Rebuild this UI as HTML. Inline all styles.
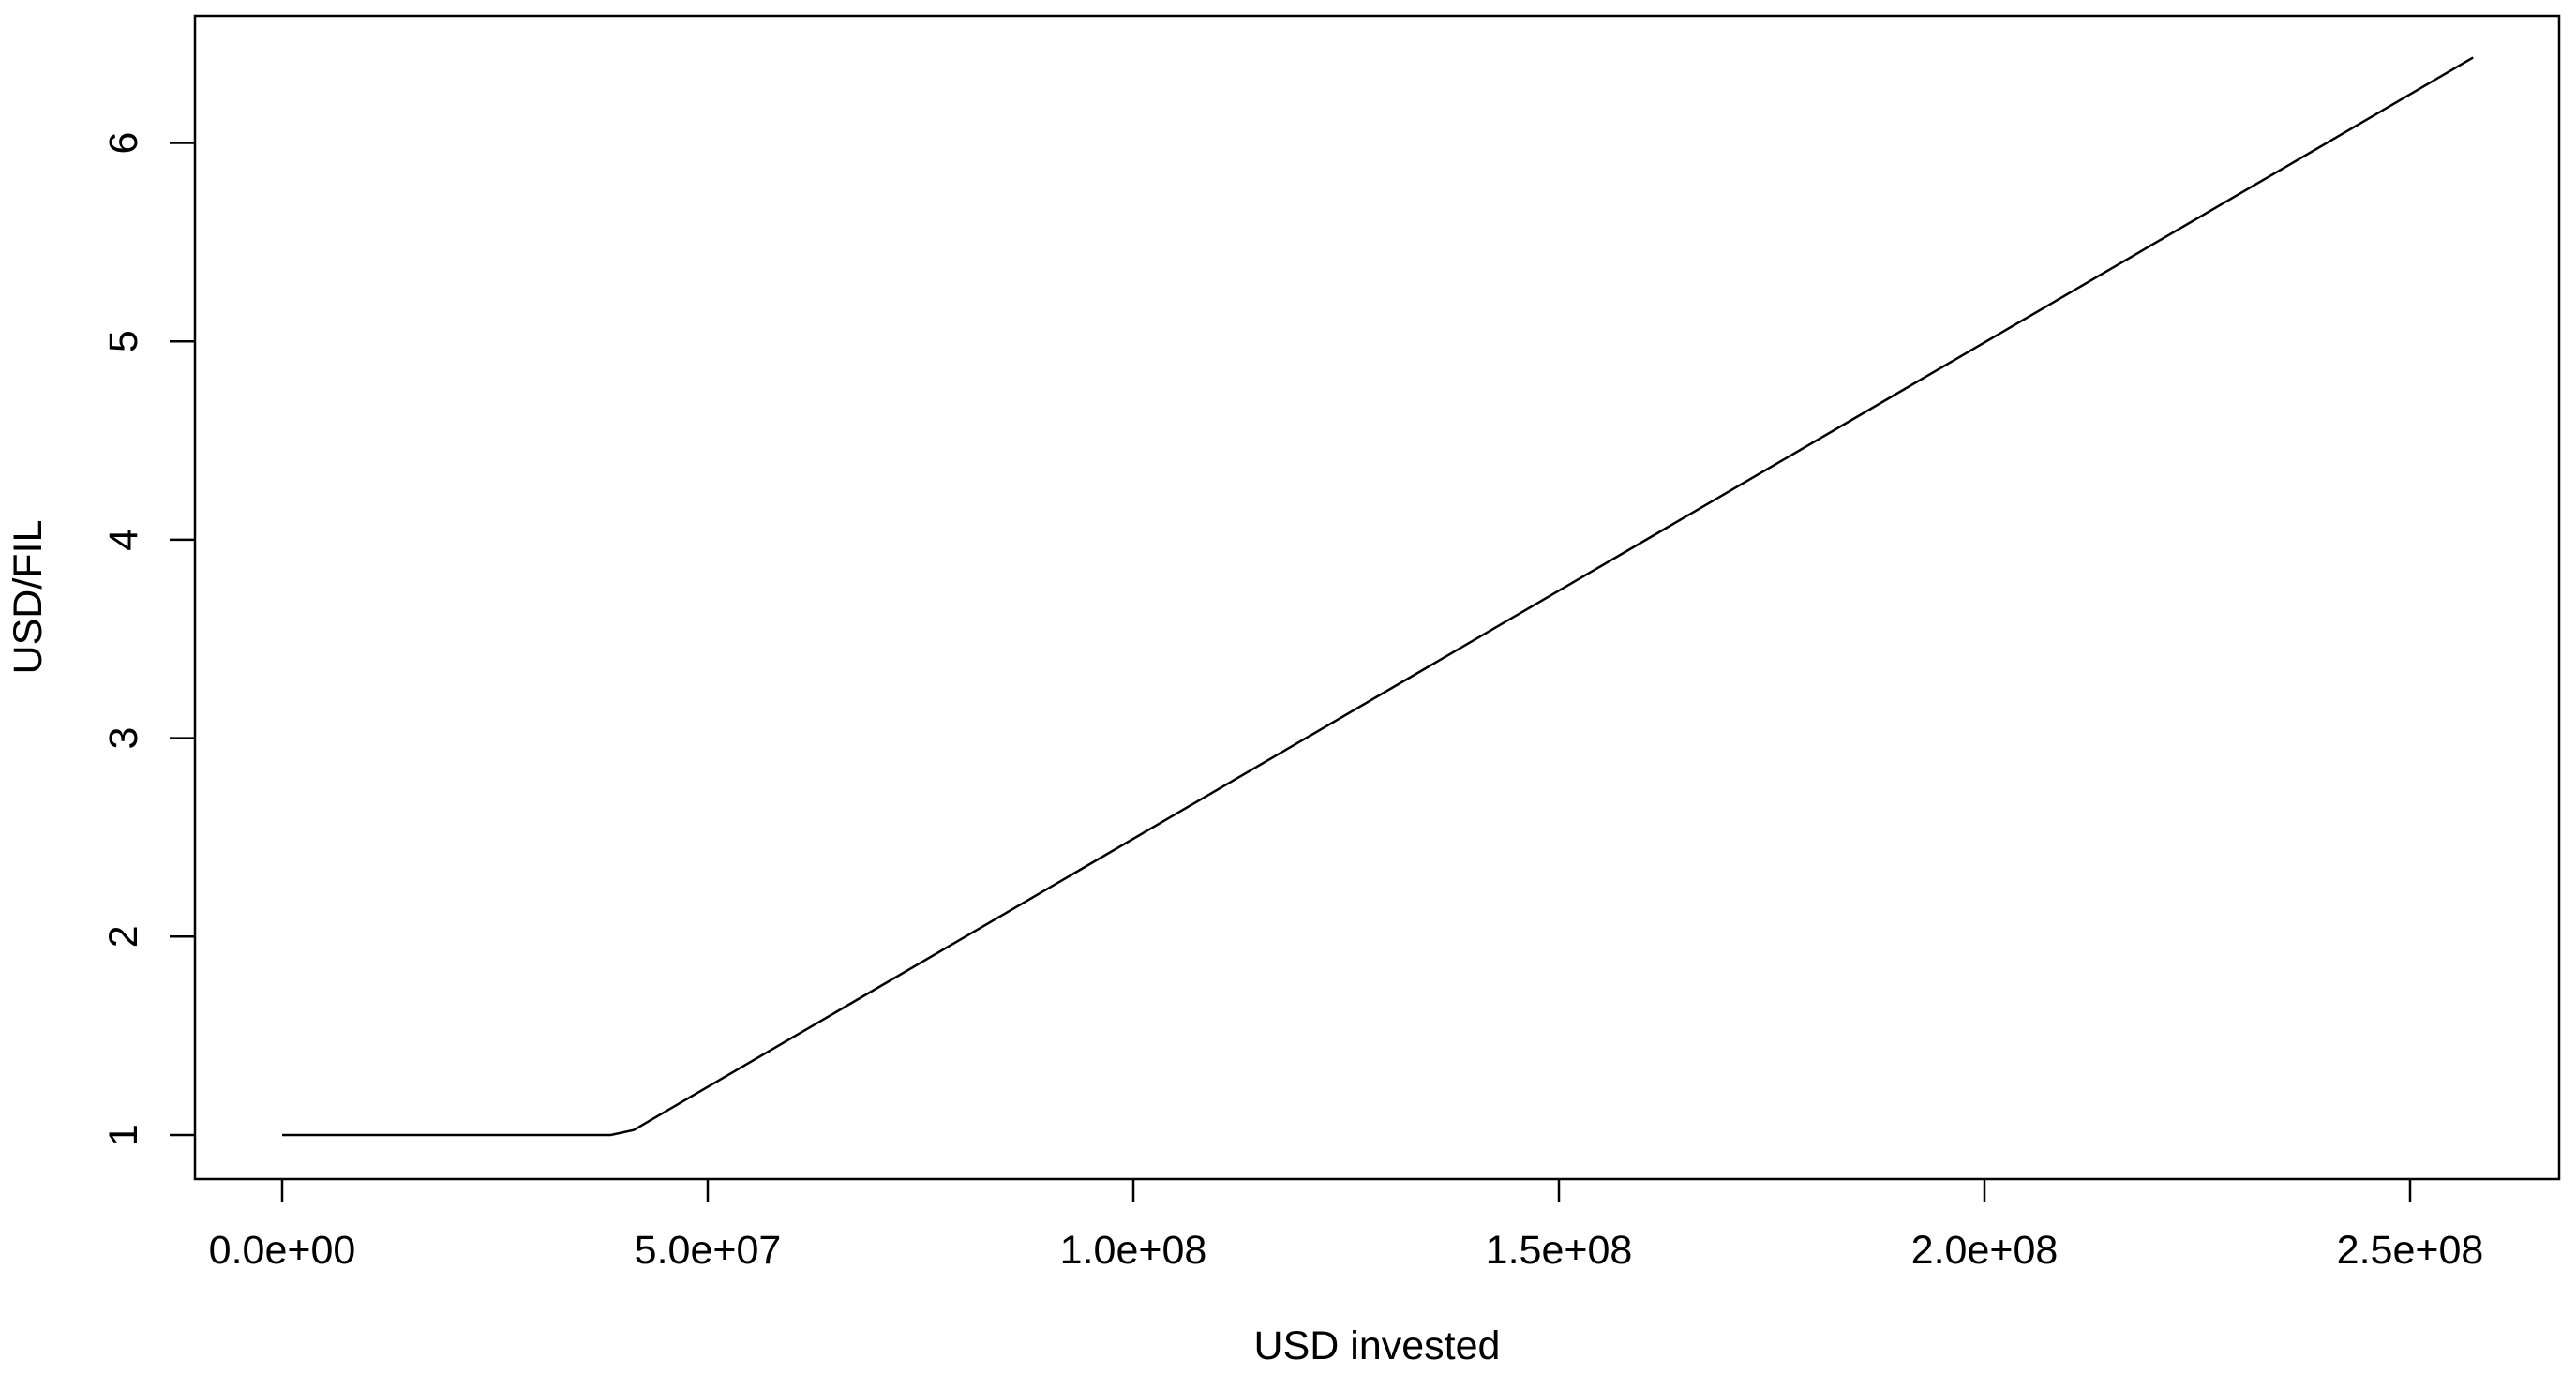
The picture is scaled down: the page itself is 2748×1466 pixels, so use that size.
<!DOCTYPE html>
<html><head><meta charset="utf-8"><style>
html,body{margin:0;padding:0;background:#fff}
svg{display:block}
text{font-family:"Liberation Sans",Arial,sans-serif;font-size:43px;fill:#000}
</style></head><body>
<svg id="chart" width="2748" height="1466" viewBox="0 0 2748 1466" xmlns="http://www.w3.org/2000/svg">
<rect x="208" y="17" width="2522" height="1241" fill="none" stroke="#000" stroke-width="2.5"/>
<g id="xaxis"></g>
<g id="yaxis"></g>
<path id="series" fill="none" stroke="#000" stroke-width="2.5"/>
<text x="1469" y="1450" text-anchor="middle">USD invested</text>
<text transform="translate(44,637) rotate(-90)" text-anchor="middle">USD/FIL</text>
</svg>
<script>
const xValues = [0, 3.86e7, 4.13e7, 2.574e8];
const yValues = [1, 1, 1.025, 6.43];
const xTicks = [0, 5e7, 1e8, 1.5e8, 2e8, 2.5e8];
const xTickLabels = ["0.0e+00", "5.0e+07", "1.0e+08", "1.5e+08", "2.0e+08", "2.5e+08"];
const yTicks = [1, 2, 3, 4, 5, 6];
const yTickLabels = ["1", "2", "3", "4", "5", "6"];

const NS = "http://www.w3.org/2000/svg";
function sx(v){ return 301 + v * (454 / 5e7); }
function sy(v){ return 1211 - (v - 1) * 211.7; }

const xa = document.getElementById('xaxis');
xTicks.forEach((t, i) => {
  const l = document.createElementNS(NS, 'line');
  
  
  l.setAttribute('x1', sx(t)); l.setAttribute('x2', sx(t));
  l.setAttribute('y1', 1258); l.setAttribute('y2', 1283);
  l.setAttribute('stroke', '#000'); l.setAttribute('stroke-width', '2.5');
  xa.appendChild(l);
  const tx = document.createElementNS(NS, 'text');
  
  
  tx.setAttribute('x', sx(t)); tx.setAttribute('y', 1348);
  tx.setAttribute('text-anchor', 'middle');
  tx.textContent = xTickLabels[i];
  xa.appendChild(tx);
});
const ya = document.getElementById('yaxis');
yTicks.forEach((t, i) => {
  const l = document.createElementNS(NS, 'line');
  
  
  l.setAttribute('x1', 181); l.setAttribute('x2', 208);
  l.setAttribute('y1', sy(t)); l.setAttribute('y2', sy(t));
  l.setAttribute('stroke', '#000'); l.setAttribute('stroke-width', '2.5');
  ya.appendChild(l);
  const tx = document.createElementNS(NS, 'text');
  
  
  tx.setAttribute('transform', 'translate(146,' + sy(t) + ') rotate(-90)');
  tx.setAttribute('text-anchor', 'middle');
  tx.textContent = yTickLabels[i];
  ya.appendChild(tx);
});
let d = '';
xValues.forEach((x, i) => { d += (i ? 'L' : 'M') + sx(x) + ' ' + sy(yValues[i]) + ' '; });
document.getElementById('series').setAttribute('d', d);
</script>
</body></html>
